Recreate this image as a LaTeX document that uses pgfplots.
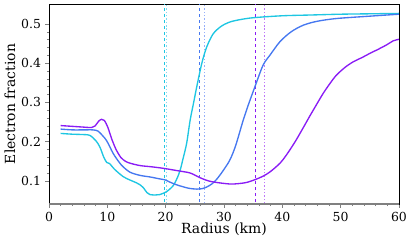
\documentclass[border=0pt]{standalone}
\usepackage{pgfplots}
\pgfplotsset{compat=1.18}
\usepackage{fontspec}
\setmainfont{DejaVu Serif}
\definecolor{ccyan}{RGB}{30,198,226}
\definecolor{cblue}{RGB}{70,120,240}
\definecolor{cpurp}{RGB}{138,28,245}
\definecolor{lcyan}{RGB}{130,220,240}
\definecolor{lblue}{RGB}{150,175,250}
\definecolor{lpurp}{RGB}{190,120,250}
\begin{document}
\begin{tikzpicture}
\path[use as bounding box] (-49bp,-36bp) rectangle (362bp,204bp);
\begin{axis}[
  at={(0,0)}, anchor=south west,
  scale only axis, width=350bp, height=200bp,
  xmin=0, xmax=60, ymin=0.041, ymax=0.551,
  xtick={0,10,...,60}, ytick={0.1,0.2,0.3,0.4,0.5},
  minor x tick num=4, minor y tick num=4,
  tick align=outside, xtick pos=left, ytick pos=left,
  major tick length=3.5bp, minor tick length=2bp,
  tick style={gray, line width=0.6pt},
  axis line style={black, line width=0.8pt},
  /pgf/number format/assume math mode=true,
  yticklabel style={/pgf/number format/fixed, /pgf/number format/precision=1, xshift=-1bp},
  xticklabel style={yshift=-1bp},
  ticklabel style={font=\fontsize{12.5}{14}\selectfont},
  label style={font=\fontsize{14}{16}\selectfont},
  xlabel={Radius (km)}, ylabel={Electron fraction},
  xlabel style={yshift=5bp}, ylabel style={yshift=-1bp},
  every axis plot/.append style={line width=1.35pt, smooth, tension=0.5},
]
\draw[gray, line width=1.2pt] (rel axis cs:0,0) -- (rel axis cs:1,0);
% vertical lines
\addplot[ccyan, dashed, line width=0.7pt, sharp plot] coordinates {(19.7,0) (19.7,1)};
\addplot[lcyan, dotted, line width=0.8pt, sharp plot] coordinates {(20.2,0) (20.2,1)};
\addplot[cblue, dashed, line width=0.7pt, sharp plot] coordinates {(25.8,0) (25.8,1)};
\addplot[lblue, dotted, line width=0.8pt, sharp plot] coordinates {(26.6,0) (26.6,1)};
\addplot[cpurp, dashed, line width=0.7pt, sharp plot] coordinates {(35.4,0) (35.4,1)};
\addplot[lpurp, dotted, line width=0.8pt, sharp plot] coordinates {(36.9,0) (36.9,1)};
% cyan
\addplot[ccyan] coordinates {
(2,0.221) (4,0.219) (6,0.218) (7,0.216) (8,0.203) (8.7,0.187) (9.4,0.160) (9.9,0.147) (10.4,0.144) (11.2,0.130) (12.7,0.111) (13.9,0.102) (15,0.095) (15.6,0.090) (16.2,0.082) (16.8,0.070) (17.3,0.065) (18.2,0.064) (19.0,0.065) (20.2,0.073) (21.3,0.088) (22.0,0.108) (22.5,0.128) (23.0,0.158) (23.6,0.196) (24.2,0.255) (24.8,0.300) (25.4,0.345) (26.2,0.400) (27,0.440) (28.1,0.474) (29.5,0.494) (31,0.505) (32.7,0.511) (35,0.516) (40,0.521) (45,0.523) (50,0.525) (55,0.526) (60,0.527)};
% blue
\addplot[cblue] coordinates {
(2,0.232) (4,0.230) (6,0.230) (7.5,0.230) (8.4,0.227) (9.2,0.215) (9.9,0.202) (11,0.170) (12,0.148) (12.7,0.136) (13.9,0.122) (15.6,0.114) (17.3,0.110) (19.0,0.105) (19.8,0.103) (20.7,0.097) (21.5,0.092) (22.5,0.087) (24,0.081) (25.3,0.079) (26.2,0.080) (27,0.084) (28,0.093) (28.8,0.105) (29.8,0.125) (31,0.153) (32,0.190) (33.3,0.255) (34.2,0.295) (35.3,0.340) (36.7,0.395) (37.9,0.421) (39.6,0.455) (41.5,0.480) (43.6,0.497) (46,0.507) (49.3,0.514) (55,0.520) (60,0.525)};
% purple
\addplot[cpurp] coordinates {
(2,0.241) (4,0.239) (6,0.237) (7.3,0.236) (7.9,0.240) (8.5,0.252) (9.0,0.257) (9.5,0.254) (10.1,0.236) (10.8,0.205) (11.5,0.180) (12.3,0.160) (13.1,0.150) (13.9,0.145) (15.6,0.139) (17.5,0.136) (19.6,0.132) (22,0.126) (24.2,0.120) (25.9,0.108) (27.3,0.100) (28.7,0.096) (31,0.092) (32.5,0.093) (33.9,0.096) (35.3,0.103) (36.7,0.112) (37.9,0.123) (39.6,0.145) (40.7,0.166) (42.2,0.200) (43.6,0.236) (44.7,0.265) (45.8,0.293) (47,0.323) (48.2,0.349) (49.3,0.370) (50.8,0.390) (52.2,0.404) (53.6,0.414) (55,0.425) (56.5,0.436) (57.9,0.447) (59,0.457) (60,0.461)};
\end{axis}
\end{tikzpicture}
\end{document}
